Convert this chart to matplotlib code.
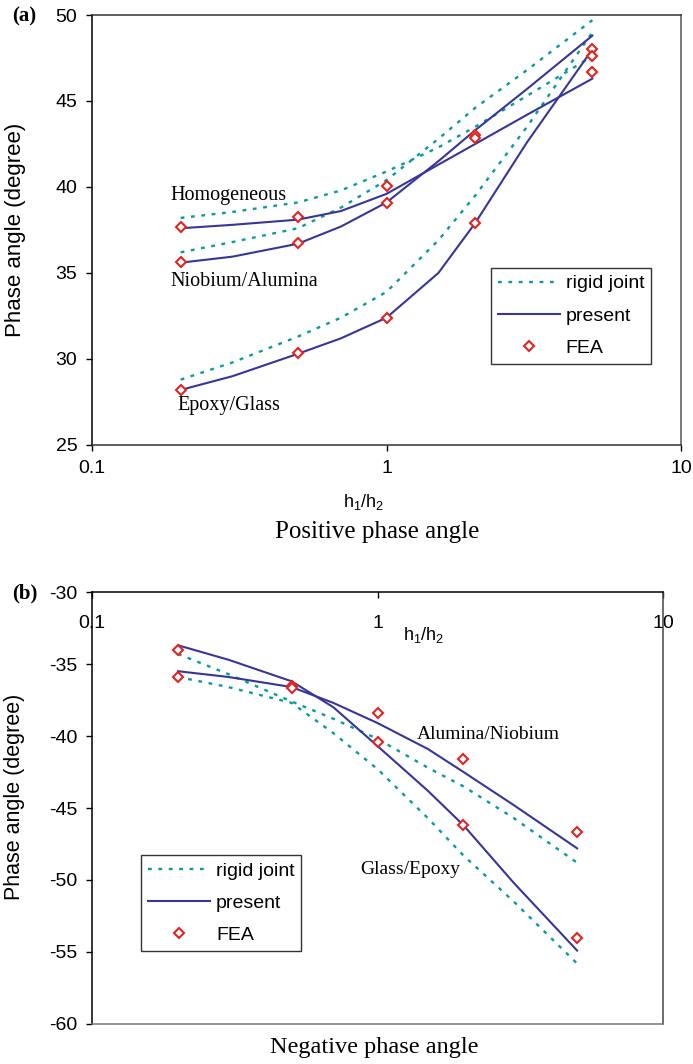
import numpy as np
import matplotlib
matplotlib.use('Agg')
import matplotlib.pyplot as plt
from matplotlib.ticker import FixedLocator, FixedFormatter, NullLocator

plt.rcParams['font.family'] = ['Liberation Sans', 'DejaVu Sans']
plt.rcParams['axes.unicode_minus'] = False
plt.rcParams['mathtext.fontset'] = 'custom'
plt.rcParams['mathtext.rm'] = 'Liberation Sans'
plt.rcParams['mathtext.it'] = 'Liberation Sans'

ratio = [0.2, 0.3, 0.5, 0.7, 1, 1.5, 2, 3, 5]

# (a) positive phase angle
homog_present = [37.6, 37.8, 38.1, 38.6, 39.6, 41.3, 42.5, 44.2, 46.3]
homog_rigid = [38.2, 38.55, 39.1, 39.8, 40.9, 42.3, 43.5, 45.3, 47.6]
niob_present = [35.6, 35.95, 36.7, 37.7, 39.1, 41.5, 43.3, 45.7, 48.8]
niob_rigid = [36.2, 36.8, 37.6, 38.8, 40.4, 42.8, 44.6, 46.8, 49.7]
epoxy_present = [28.2, 29.0, 30.3, 31.2, 32.4, 35.0, 37.9, 42.6, 48.0]
epoxy_rigid = [28.8, 29.8, 31.3, 32.4, 33.9, 36.9, 39.5, 43.5, 49.0]
fea_x_a = [0.2, 0.2, 0.2, 0.5, 0.5, 0.5, 1, 1, 1, 2, 2, 2, 5, 5, 5]
fea_a = [37.65, 35.65, 28.2, 38.25, 36.75, 30.35, 40.05, 39.05, 32.4,
         43.0, 42.85, 37.9, 48.05, 47.6, 46.7]

# (b) negative phase angle
glass_present = [-33.7, -34.7, -36.2, -38.0, -40.7, -43.8, -46.2, -50.2, -54.9]
alum_present = [-35.5, -35.9, -36.6, -37.7, -39.1, -40.9, -42.5, -44.8, -47.8]
rigid_upper = [-34.3, -35.7, -37.6, -38.8, -40.2, -42.2, -43.5, -45.7, -48.8]
rigid_lower = [-35.9, -36.6, -37.7, -39.8, -42.3, -45.7, -48.3, -51.5, -55.8]
fea_x_b = [0.2, 0.2, 0.5, 0.5, 1, 1, 2, 2, 5, 5]
fea_b = [-34.0, -35.9, -36.5, -36.7, -38.4, -40.4, -41.6, -46.2, -46.7, -54.0]

xticks = [0.1, 1, 10]
xticklabels = ['0.1', '1', '10']

present_col = '#36369a'
rigid_col = '#0a9a9a'
fea_col = '#e02424'
dots = (0, (1.6, 2.8))

fig = plt.figure(figsize=(6.93, 10.64), dpi=100)


def draw(ax, rigid_sets, present_sets, fx, fy):
    for i, r in enumerate(rigid_sets):
        ax.plot(ratio, r, color=rigid_col, lw=1.7, ls=dots,
                label='rigid joint' if i == 0 else None)
    for i, p in enumerate(present_sets):
        ax.plot(ratio, p, color=present_col, lw=1.5,
                label='present' if i == 0 else None)
    ax.plot(fx, fy, ls='none', marker='D', ms=5.6, mfc='white',
            mec=fea_col, mew=1.5, label='FEA')
    ax.set_xscale('log')
    ax.set_xlim(0.1, 10)
    ax.xaxis.set_major_locator(FixedLocator(xticks))
    ax.xaxis.set_major_formatter(FixedFormatter(xticklabels))
    ax.xaxis.set_minor_locator(NullLocator())


def legend(ax, anchor):
    leg = ax.legend(loc='upper left', bbox_to_anchor=anchor, fontsize=14,
                    frameon=True, fancybox=False, framealpha=1, edgecolor='#333333',
                    borderaxespad=0, handlelength=3.2, handletextpad=0.3,
                    borderpad=0.35, labelspacing=0.75)
    leg.get_frame().set_linewidth(1.0)


# ---- panel (a)
ax1 = fig.add_axes([0.1328, 0.5818, 0.8499, 0.4041])
draw(ax1, [homog_rigid, niob_rigid, epoxy_rigid],
     [homog_present, niob_present, epoxy_present], fea_x_a, fea_a)
ax1.set_ylim(25, 50)
ax1.set_yticks([25, 30, 35, 40, 45, 50])
ax1.tick_params(axis='y', labelsize=14, length=4.5, width=1, direction='out', pad=6)
ax1.tick_params(axis='x', labelsize=14, length=4.5, width=1, direction='out', pad=6)
ax1.spines['left'].set_color('black')
ax1.spines['bottom'].set_color('#333333')
ax1.spines['top'].set_color('#333333')
ax1.spines['right'].set_color('#555555')
for s in ax1.spines.values():
    s.set_linewidth(1.1)
ax1.set_ylabel('Phase angle (degree)', fontsize=16)
ax1.yaxis.set_label_coords(-0.112, 0.5)
ax1.set_xlabel(r'h$_1$/h$_2$', fontsize=13)
ax1.xaxis.set_label_coords(0.462, -0.133)
ax1.xaxis.label.set_va('center')

serif = ['Liberation Serif', 'DejaVu Serif']
ax1.text(0.185, 39.48, 'Homogeneous', family=serif, fontsize=14.5, va='center')
ax1.text(0.184, 34.48, 'Niobium/Alumina', family=serif, fontsize=14.5, va='center')
ax1.text(0.195, 27.27, 'Epoxy/Glass', family=serif, fontsize=14.5, va='center')

legend(ax1, (0.677, 0.4116))

# ---- panel (b)
ax2 = fig.add_axes([0.1328, 0.0376, 0.8240, 0.4060])
draw(ax2, [rigid_upper, rigid_lower], [glass_present, alum_present], fea_x_b, fea_b)
ax2.set_ylim(-60, -30)
ax2.set_yticks([-60, -55, -50, -45, -40, -35, -30])
ax2.tick_params(axis='y', labelsize=14, length=4.5, width=1, direction='out', pad=6)
ax2.tick_params(axis='x', labelsize=14, length=4.5, width=1, direction='in',
                top=True, bottom=False, labeltop=True, labelbottom=False, pad=-28.5)
ax2.spines['left'].set_color('black')
ax2.spines['top'].set_color('black')
ax2.spines['bottom'].set_color('#777777')
ax2.spines['right'].set_color('#444444')
for s in ax2.spines.values():
    s.set_linewidth(1.1)
ax2.set_ylabel('Phase angle (degree)', fontsize=15.5)
ax2.yaxis.set_label_coords(-0.117, 0.525)
ax2.set_xlabel(r'h$_1$/h$_2$', fontsize=13)
ax2.xaxis.set_label_position('top')
ax2.xaxis.set_label_coords(0.58, 0.9005)
ax2.xaxis.label.set_va('center')

ax2.text(1.37, -39.93, 'Alumina/Niobium', family=serif, fontsize=14, va='center')
ax2.text(0.873, -49.3, 'Glass/Epoxy', family=serif, fontsize=14, va='center')

legend(ax2, (0.0858, 0.391))

# panel letters and captions
fig.text(12 / 693, 1 - 16 / 1064, '(a)', family=serif, fontweight='bold',
         fontsize=15, va='center')
fig.text(12 / 693, 1 - 593 / 1064, '(b)', family=serif, fontweight='bold',
         fontsize=15, va='center')
fig.text(377 / 693, 1 - 532 / 1064, 'Positive phase angle', family=serif,
         fontsize=18, ha='center', va='center')
fig.text(374 / 693, 1 - 1048 / 1064, 'Negative phase angle', family=serif,
         fontsize=17.5, ha='center', va='center')

fig.savefig('out.png', dpi=100)
